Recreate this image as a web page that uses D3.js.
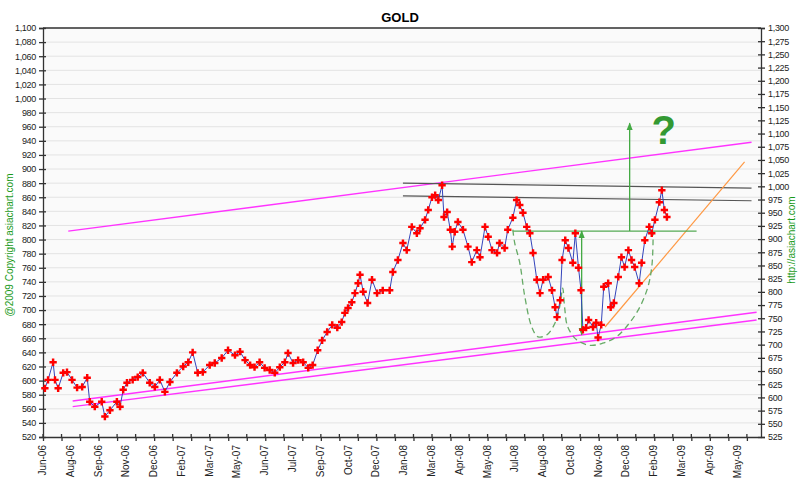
<!DOCTYPE html>
<html><head><meta charset="utf-8">
<script src="https://cdn.jsdelivr.net/npm/d3@7"></script>
<style>body{margin:0;background:#fff}text{font-family:Arial,"Liberation Sans",sans-serif}</style>
</head><body><svg id="c" width="800" height="486"></svg>
<script>
// days since 2006-06-01 and gold price
const days = [3,8,16,19,24,32,38,46,54,62,70,74,82,93,98,106,117,122,127,133,142,150,158,169,177,185,193,201,212,222,230,
237,245,253,264,272,283,293,304,312,320,328,335,343,351,359,367,375,383,388,396,404,412,420,427,435,442,450,458,466,473,478,483,489,494,499,
502,507,514,521,529,538,549,554,562,570,576,584,592,597,605,610,616,621,626,632,635,640,645,648,652,657,665,673,679,687,692,700,705,711,719,723,731,736,744,750,755,760,766,
771,776,782,787,792,800,806,811,814,819,822,827,832,839,843,848,852,855,860,864,871,876,879,884,888,895,899,904,911,916,921,927,932,937,944,948,953,960,964,969,976,980,984,988];
const prices = [589,601,626,601,589,611,612,601,590,591,604,570,563,570,549,558,570,563,587,597,601,605,611,597,591,601,584,598,611,620,626,
640,611,612,622,625,632,643,636,641,629,622,619,626,618,615,611,619,626,639,625,629,626,618,622,643,657,669,679,675,683,696,703,711,724,738,
750,726,710,743,724,728,728,754,771,795,785,818,809,816,828,842,860,863,856,877,832,839,814,790,811,825,814,790,768,785,775,818,804,785,781,795,788,814,831,856,849,838,818,
809,781,743,724,743,747,728,704,690,714,771,799,788,767,809,760,728,672,675,686,676,682,661,679,733,738,704,710,747,775,761,785,771,761,738,767,799,818,809,828,853,870,842,832];
const xLabels = ["Jun-06","Aug-06","Sep-06","Nov-06","Dec-06","Feb-07","Mar-07","May-07","Jun-07","Jul-07","Sep-07","Oct-07","Dec-07","Jan-08","Mar-08","Apr-08","May-08","Jul-08","Aug-08","Oct-08","Nov-08","Dec-08","Feb-09","Mar-09","Apr-09","May-09"];
const leftTicks = d3.range(520, 1101, 20);
const rightTicks = d3.range(525, 1301, 25);
// annotation lines: [day1, value1, day2, value2]
const magentaLines = [[40,812,1122,938],[47,571,1130,697],[47,563,1130,686]];
const grayLines = [[570,880,1122,873],[570,862,1122,855]];
const orangeLine = [890,676,1111,910];
const neckline = [744,812,1035,812];
const cupDays = [744,747,755,763,774,784,798,811,818,823,826,831,845,866,886,908,929,945,958,964,966,966];
const cupVals = [814,795,767,719,676,662,665,682,704,731,704,676,658,650,653,662,682,704,733,761,795,811];

const svg = d3.select("#c");
const L=43,R=761,T=28,B=437;
const x = d3.scaleLinear().domain([0,1137]).range([L,R]);
const y = d3.scaleLinear().domain([520,1100]).range([B,T]);
const y2 = d3.scaleLinear().domain([525,1300]).range([B,T]);

svg.append("rect").attr("x",L).attr("y",T).attr("width",R-L).attr("height",B-T).attr("fill","#fafafa");
svg.append("g").selectAll("line").data(leftTicks.slice(1)).join("line")
 .attr("x1",L).attr("x2",R).attr("y1",d=>y(d)).attr("y2",d=>y(d)).attr("stroke","#e3e3e3");

const ga = svg.append("g").attr("transform",`translate(${L},0)`)
 .call(d3.axisLeft(y).tickValues(leftTicks).tickFormat(d3.format(",")).tickSize(4).tickPadding(3));
const gb = svg.append("g").attr("transform",`translate(${R},0)`)
 .call(d3.axisRight(y2).tickValues(rightTicks).tickFormat(d3.format(",")).tickSize(4).tickPadding(3));
const minor = d3.range(0,1138,44*2/3);
const gx = svg.append("g").attr("transform",`translate(0,${B})`)
 .call(d3.axisBottom(x).tickValues(minor).tickFormat("").tickSize(4).tickSizeOuter(0));
gx.append("g").selectAll("line").data(minor).join("line").attr("x1",d=>x(d)).attr("x2",d=>x(d)).attr("y1",-3).attr("y2",0).attr("stroke","#333");
[ga,gb,gx].forEach(g=>{g.selectAll("path,line").attr("stroke","#333").attr("stroke-width",1.3);
 g.selectAll("text").attr("font-size",9).attr("fill","#222").attr("letter-spacing","-0.3");});
ga.selectAll(".tick line").attr("x2",-4).attr("x1",3);
gb.selectAll(".tick line").attr("x1",-3);
svg.append("line").attr("x1",L).attr("x2",R).attr("y1",T).attr("y2",T).attr("stroke","#333").attr("stroke-width",1.3);
svg.append("g").selectAll("text").data(xLabels).join("text")
 .attr("transform",(d,i)=>`translate(${x(i*44)+3},${B+8}) rotate(-90)`)
 .attr("text-anchor","end").attr("font-size",10).attr("fill","#222").text(d=>d);

const ln = d=>svg.append("line").attr("x1",x(d[0])).attr("y1",y(d[1])).attr("x2",x(d[2])).attr("y2",y(d[3]));
magentaLines.forEach(d=>ln(d).attr("stroke","#ff33ff").attr("stroke-width",1.4));
grayLines.forEach(d=>ln(d).attr("stroke","#555").attr("stroke-width",1.2));
ln(orangeLine).attr("stroke","#ff9944").attr("stroke-width",1.2);
ln(neckline).attr("stroke","#55aa55").attr("stroke-width",1.3);

const cup = cupDays.map((d,i)=>[x(d),y(cupVals[i])]);
svg.append("path").attr("d",d3.line().curve(d3.curveCatmullRom)(cup)).attr("fill","none")
 .attr("stroke","#66aa66").attr("stroke-width",1.3).attr("stroke-dasharray","6,4");

const defs = svg.append("defs");
defs.append("marker").attr("id","ah").attr("viewBox","0 0 10 10").attr("refX",9).attr("refY",5)
 .attr("markerWidth",6).attr("markerHeight",8).attr("orient","auto-start-reverse")
 .append("path").attr("d","M0,1L10,5L0,9Z").attr("fill","#44aa44");
svg.append("line").attr("x1",x(929)).attr("x2",x(929)).attr("y1",y(812)).attr("y2",y(965))
 .attr("stroke","#44aa44").attr("stroke-width",1.3).attr("marker-end","url(#ah)");
svg.append("line").attr("x1",x(853)).attr("x2",x(853)).attr("y1",y(812)).attr("y2",y(665))
 .attr("stroke","#44aa44").attr("stroke-width",1.3).attr("marker-end","url(#ah)").attr("marker-start","url(#ah)");
svg.append("text").attr("x",x(983)).attr("y",y(935)).attr("text-anchor","middle").attr("font-size",40)
 .attr("font-weight","bold").attr("fill","#339933").text("?");

const pts = days.map((d,i)=>[x(d),y(prices[i])]);
svg.append("path").attr("d",d3.line()(pts)).attr("fill","none").attr("stroke","#3344bb").attr("stroke-width",1);
svg.append("g").selectAll("path").data(pts).join("path")
 .attr("transform",d=>`translate(${d[0]},${d[1]})`).attr("d",d3.symbol(d3.symbolCross,30)).attr("fill","#ff0000");

svg.append("text").attr("x",400).attr("y",22).attr("text-anchor","middle").attr("font-size",13).attr("font-weight","bold").text("GOLD");
svg.append("text").attr("transform","translate(13,245) rotate(-90)").attr("text-anchor","middle").attr("font-size",10).attr("fill","#1a9a1a").text("@2009 Copyright asiachart.com");
svg.append("text").attr("transform","translate(795,240) rotate(-90)").attr("text-anchor","middle").attr("font-size",10).attr("fill","#1a9a1a").text("http://asiachart.com");
</script></body></html>
